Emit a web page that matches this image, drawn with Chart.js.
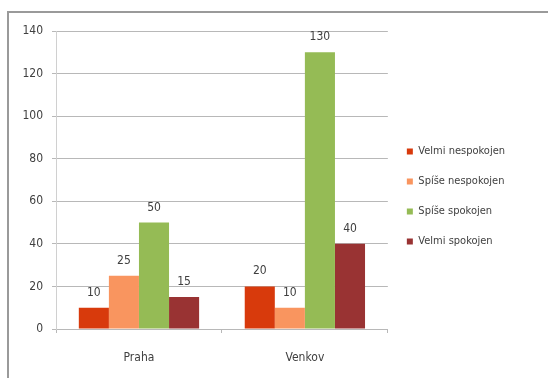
<!DOCTYPE html>
<html>
<head>
<meta charset="utf-8">
<script src="https://cdn.jsdelivr.net/npm/chart.js@4"></script>
<style>
  html, body { margin: 0; padding: 0; background: #fff; }
  #wrap { position: relative; width: 548px; height: 378px; overflow: hidden; }
  #frame { position: absolute; left: 7px; top: 11px; width: 600px; height: 400px;
           border-left: 2px solid #9a9a9a; border-top: 2px solid #9a9a9a; }
  #chart { position: absolute; left: 0; top: 0; }
</style>
</head>
<body>
<div id="wrap">
  <div id="frame"></div>
  <canvas id="chart" width="548" height="378"></canvas>
</div>
<script>
const categories = ['Praha', 'Venkov'];
const seriesNames = ['Velmi nespokojen', 'Spíše nespokojen', 'Spíše spokojen', 'Velmi spokojen'];
const velmiNespokojen = [10, 20];
const spiseNespokojen = [25, 10];
const spiseSpokojen = [50, 130];
const velmiSpokojen = [15, 40];
const yTicks = [0, 20, 40, 60, 80, 100, 120, 140];

const colors = ['#d83a0c', '#f9955f', '#95bb55', '#993333'];
const fontFamily = '"Liberation Sans Narrow", "DejaVu Sans Condensed", "Liberation Sans", sans-serif';

// write each bar's value above it
const valueLabels = {
  id: 'valueLabels',
  afterDatasetsDraw(chart) {
    const ctx = chart.ctx;
    ctx.save();
    ctx.font = '12px ' + fontFamily;
    ctx.fillStyle = '#404040';
    ctx.textAlign = 'center';
    ctx.textBaseline = 'alphabetic';
    chart.data.datasets.forEach((ds, i) => {
      chart.getDatasetMeta(i).data.forEach((bar, j) => {
        ctx.fillText(String(ds.data[j]), bar.x, bar.y - 12);
      });
    });
    ctx.restore();
  }
};

const seriesData = [velmiNespokojen, spiseNespokojen, spiseSpokojen, velmiSpokojen];

new Chart(document.getElementById('chart'), {
  type: 'bar',
  data: {
    labels: categories,
    datasets: seriesNames.map((name, i) => ({
      label: name,
      data: seriesData[i],
      backgroundColor: colors[i],
      borderWidth: 0,
      barPercentage: 1,
      categoryPercentage: 0.725
    }))
  },
  options: {
    responsive: false,
    animation: false,
    events: [],
    layout: { padding: { left: 0, top: 31, right: 33, bottom: 16 } },
    plugins: {
      tooltip: { enabled: false },
      legend: {
        position: 'right',
        align: 'center',
        labels: {
          boxWidth: 6,
          boxHeight: 6,
          padding: 19,
          color: '#404040',
          font: { family: fontFamily, size: 11 }
        }
      }
    },
    scales: {
      x: {
        afterFit: (s) => { s.height = 33; },
        grid: { offset: true, drawOnChartArea: false, tickLength: 4, color: '#b8b8b8' },
        border: { color: '#b8b8b8' },
        ticks: { padding: 18, color: '#404040', font: { family: fontFamily, size: 12 } }
      },
      y: {
        min: 0,
        max: 140,
        afterFit: (s) => { s.width = 56; },
        afterBuildTicks: (s) => { s.ticks = yTicks.map(v => ({ value: v })); },
        grid: { color: '#b8b8b8', tickLength: 4 },
        border: { color: '#d0d0d0' },
        ticks: { padding: 9, color: '#404040', font: { family: fontFamily, size: 12 } }
      }
    }
  },
  plugins: [valueLabels]
});
</script>
</body>
</html>
